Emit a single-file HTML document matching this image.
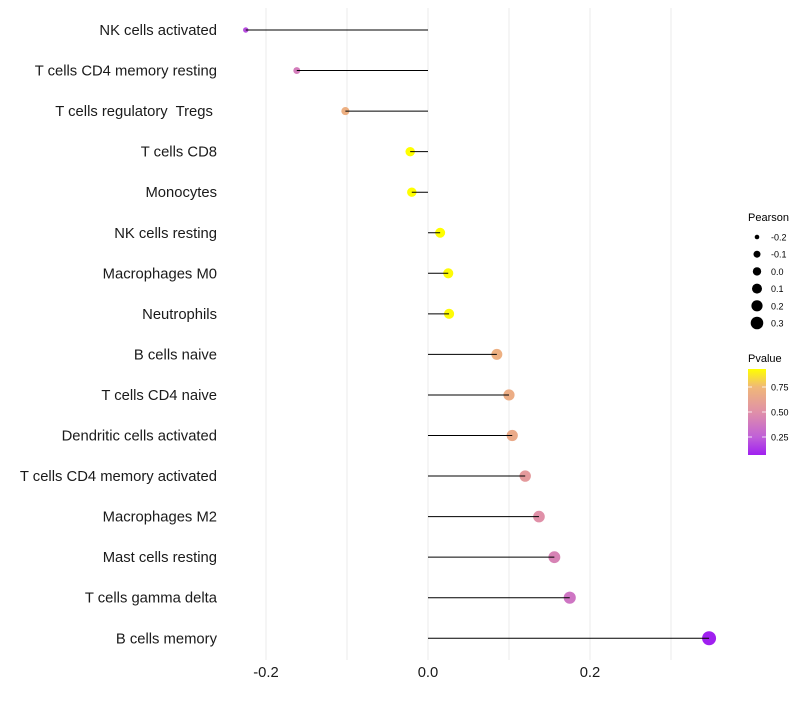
<!DOCTYPE html>
<html><head><meta charset="utf-8"><style>
body{margin:0;background:#fff;font-family:"Liberation Sans",sans-serif}
text{white-space:pre}
</style></head><body>
<svg id="chart" width="800" height="700" xmlns="http://www.w3.org/2000/svg" font-family="Liberation Sans, sans-serif">
<g id="grid"></g>
<g id="marks"></g>
<g id="ylabels"></g>
<g id="xlabels"></g>
<g id="legend"></g>
</svg>
<script>
const categories=["NK cells activated","T cells CD4 memory resting","T cells regulatory  Tregs ","T cells CD8","Monocytes","NK cells resting","Macrophages M0","Neutrophils","B cells naive","T cells CD4 naive","Dendritic cells activated","T cells CD4 memory activated","Macrophages M2","Mast cells resting","T cells gamma delta","B cells memory"];
const pearson=[-0.225,-0.162,-0.102,-0.022,-0.02,0.015,0.025,0.026,0.085,0.1,0.104,0.12,0.137,0.156,0.175,0.347];
const pvalue=[0.2,0.4,0.7,0.95,0.94,0.93,0.92,0.92,0.7,0.68,0.66,0.56,0.5,0.43,0.36,0.07];
const xTicks=[-0.2,0,0.2];
const xTickLabels=["-0.2","0.0","0.2"];
const gridVals=[-0.2,-0.1,0,0.1,0.2,0.3];
const sizeLegendLabels=["-0.2","-0.1","0.0","0.1","0.2","0.3"];
const pLegendVals=[0.25,0.5,0.75];
const pLegendLabels=["0.25","0.50","0.75"];

const NS="http://www.w3.org/2000/svg";
const x=v=>428+v*810;
const y=i=>30+i*40.55;
const r=v=>Math.sqrt(Math.max(2,23.8+72.7*v));
const stops=[[0.07,[160,32,240]],[0.25,[192,96,216]],[0.5,[224,144,168]],[0.75,[240,184,120]],[0.93,[255,255,0]]];
function col(p){
 if(p<=stops[0][0])return "rgb("+stops[0][1]+")";
 for(let k=1;k<stops.length;k++){if(p<=stops[k][0]){const a=stops[k-1],b=stops[k],t=(p-a[0])/(b[0]-a[0]);return "rgb("+a[1].map((c,j)=>Math.round(c+(b[1][j]-c)*t))+")";}}
 return "rgb("+stops[stops.length-1][1]+")";
}
function mk(tag,attrs,parent){const e=document.createElementNS(NS,tag);for(const k in attrs)e.setAttribute(k,attrs[k]);parent.appendChild(e);return e;}
const grid=document.getElementById('grid'),marks=document.getElementById('marks'),yl=document.getElementById('ylabels'),xl=document.getElementById('xlabels'),lg=document.getElementById('legend');
gridVals.forEach(v=>{const l=mk('line',{x1:x(v),x2:x(v),y1:8,y2:660,stroke:'#ebebeb','stroke-width':1},grid);

});
categories.forEach((c,i)=>{
 const cc=mk('circle',{cx:x(pearson[i]),cy:y(i),r:r(pearson[i]),fill:col(pvalue[i])},marks);
 
 
 const ln=mk('line',{x1:x(0),x2:x(pearson[i]),y1:y(i),y2:y(i),stroke:'#000','stroke-width':1},marks);
 
 
 const t=mk('text',{x:217,y:y(i)+5,'text-anchor':'end','font-size':14.8,fill:'#1a1a1a'},yl);t.textContent=c;
 
 
});
xTicks.forEach((v,i)=>{const t=mk('text',{x:x(v),y:677,'text-anchor':'middle','font-size':14.8,fill:'#1a1a1a'},xl);t.textContent=xTickLabels[i];

});
let tt=mk('text',{x:748,y:221,'font-size':11},lg);tt.textContent="Pearson";


sizeLegendLabels.forEach((s,i)=>{const yy=237+i*17.2;
 const c=mk('circle',{cx:757,cy:yy,r:[2.3,3.5,4.2,5,5.6,6.3][i],fill:'#000'},lg);
 
 
 const t=mk('text',{x:771,y:yy+3.5,'font-size':9},lg);t.textContent=s;
 
 });
tt=mk('text',{x:748,y:362,'font-size':11},lg);tt.textContent="Pvalue";


const defs=mk('defs',{},lg);const g=mk('linearGradient',{id:'pg',x1:0,y1:1,x2:0,y2:0},defs);
stops.forEach(s=>mk('stop',{offset:((s[0]-0.07)/0.86),'stop-color':"rgb("+s[1]+")"},g));
const bar=mk('rect',{x:748,y:369,width:18,height:86,fill:'url(#pg)'},lg);


pLegendVals.forEach((v,i)=>{const yy=455-(v-0.07)/0.86*86;
 mk('line',{x1:748,x2:752,y1:yy,y2:yy,stroke:'#fff','stroke-width':0.8},lg);mk('line',{x1:762,x2:766,y1:yy,y2:yy,stroke:'#fff','stroke-width':0.8},lg);
 const t=mk('text',{x:771,y:yy+3.5,'font-size':9},lg);t.textContent=pLegendLabels[i];
 
 });
</script>
</body></html>
